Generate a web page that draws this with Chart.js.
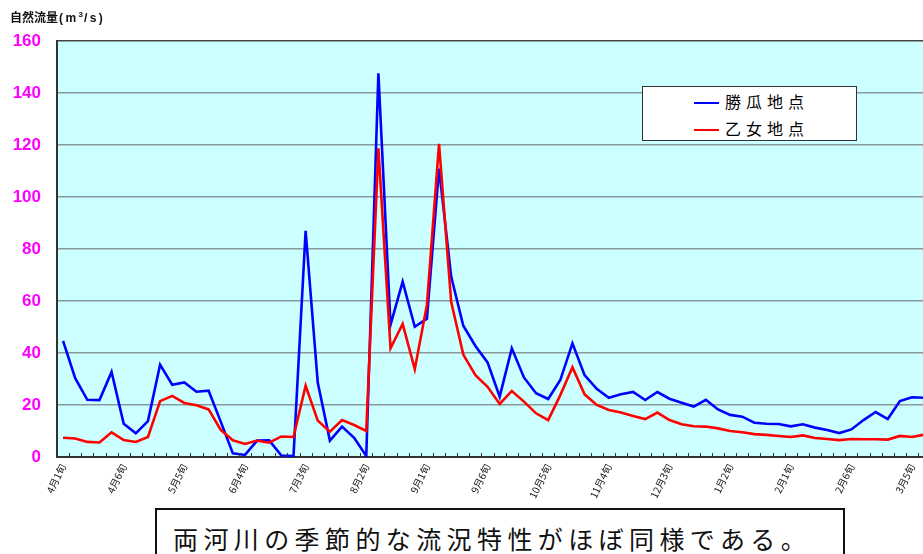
<!DOCTYPE html>
<html>
<head>
<meta charset="utf-8">
<script src="https://cdn.jsdelivr.net/npm/chart.js@4.4.1/dist/chart.umd.min.js"></script>
<style>
  html, body { margin: 0; padding: 0; background: #fff; overflow: hidden; width: 923px; height: 554px; }
  #wrap { position: absolute; left: 0; top: 0; width: 940px; height: 502px; }
  #title { position: absolute; left: 10px; top: 8px; font: bold 12px "Noto Sans CJK JP", sans-serif; color: #111; white-space: nowrap; }
  #title .u { letter-spacing: 2.4px; font-family: "Liberation Sans", sans-serif; font-weight: bold; margin-left: 1px; }
  #title sup { font-size: 8px; vertical-align: 5px; letter-spacing: 1px; }
  #legend { position: absolute; left: 642px; top: 86px; width: 213px; height: 53px; background: #fff; border: 1px solid #333; }
  .item { position: absolute; left: 51px; height: 20px; font: 16px "Noto Sans CJK JP", sans-serif; letter-spacing: 5px; color: #000; line-height: 20px; }
  .item i { display: inline-block; width: 25px; height: 2px; vertical-align: middle; margin-right: 6px; position: relative; top: -1px; }
  #note { position: absolute; left: 155px; top: 508px; width: 686px; height: 60px; border: 2px solid #111; background: #fff; }
  #note span { position: absolute; left: 16px; top: 10px; font: 25px "Noto Sans CJK JP", sans-serif; letter-spacing: 5.4px; color: #111; white-space: nowrap; }
</style>
</head>
<body>
<div id="wrap"><canvas id="c" width="940" height="502"></canvas></div>
<div id="title">自然流量<span class="u">(m<sup>3</sup>/s)</span></div>
<div id="legend">
  <div class="item" style="top:4px"><i style="background:#0000ff"></i>勝瓜地点</div>
  <div class="item" style="top:31px"><i style="background:#ff0000"></i>乙女地点</div>
</div>
<div id="note"><span>両河川の季節的な流況特性がほぼ同様である。</span></div>
<script>
// 半旬 (5-day) periods, April -> March
const months = [4, 5, 6, 7, 8, 9, 10, 11, 12, 1, 2, 3];
const categories = [];
for (const m of months) for (let k = 1; k <= 6; k++) categories.push(m + "月" + k + "旬");

// only every 5th period is labelled on the axis
const LABEL_EVERY = 5;

const katsuri = [44.7, 30.3, 22.0, 21.9, 32.7, 12.8, 9.1, 13.8, 35.5, 27.8,
  28.7, 25.1, 25.5, 13.6, 1.4, 0.8, 6.3, 6.4, 0.6, 0.4,
  87.0, 28.6, 6.3, 11.7, 7.4, 0.4, 147.6, 50.8, 67.4, 50.1,
  53.2, 110.9, 69.4, 50.5, 42.7, 36.4, 23.2, 41.8, 30.6, 24.5,
  22.3, 29.6, 43.7, 31.5, 26.2, 22.8, 24.1, 25.0, 21.9, 25.0,
  22.4, 20.9, 19.4, 22.0, 18.3, 16.2, 15.5, 13.2, 12.8, 12.7,
  11.8, 12.6, 11.3, 10.4, 9.2, 10.6, 14.2, 17.3, 14.6, 21.5,
  23.0, 22.8];

const otome = [7.4, 7.1, 5.8, 5.6, 9.5, 6.5, 5.8, 7.7, 21.5, 23.5,
  20.8, 19.9, 18.3, 10.4, 6.4, 5.0, 6.3, 5.5, 7.9, 7.7,
  27.4, 14.0, 9.7, 14.2, 12.3, 10.0, 118.7, 41.8, 51.2, 33.8,
  58.5, 120.4, 59.7, 39.4, 31.5, 27.0, 20.4, 25.4, 21.3, 16.8,
  14.2, 23.8, 34.5, 24.1, 20.0, 18.1, 17.1, 15.8, 14.6, 17.1,
  14.2, 12.6, 11.8, 11.7, 11.0, 10.0, 9.5, 8.8, 8.5, 8.1,
  7.7, 8.3, 7.3, 6.9, 6.5, 6.9, 6.8, 6.8, 6.7, 8.1,
  7.7, 8.6];

const Y_MIN = 0, Y_MAX = 160, Y_STEP = 20;

// cyan plot background
const plotBg = {
  id: "plotBg",
  beforeDraw(chart) {
    const a = chart.chartArea, ctx = chart.ctx;
    ctx.save();
    ctx.fillStyle = "#ccffff";
    ctx.fillRect(a.left, a.top, a.right - a.left, a.bottom - a.top);
    ctx.restore();
  }
};

// Excel-style tick marks drawn inside the plot, at category boundaries
const insideTicks = {
  id: "insideTicks",
  afterDatasetsDraw(chart) {
    const x = chart.scales.x, a = chart.chartArea, ctx = chart.ctx;
    const step = x.getPixelForValue(1) - x.getPixelForValue(0);
    ctx.save();
    ctx.strokeStyle = "#333";
    ctx.lineWidth = 1;
    ctx.beginPath();
    for (let k = 0; k <= categories.length; k++) {
      const px = Math.round(x.getPixelForValue(0) - step / 2 + k * step) + 0.5;
      ctx.moveTo(px, a.bottom);
      ctx.lineTo(px, a.bottom - 4);
    }
    ctx.stroke();
    ctx.restore();
  }
};

new Chart(document.getElementById("c").getContext("2d"), {
  type: "line",
  data: {
    labels: categories,
    datasets: [
      { label: "勝瓜地点", data: katsuri, borderColor: "#0000ff", borderWidth: 2.6, order: 1 },
      { label: "乙女地点", data: otome, borderColor: "#ff0000", borderWidth: 2.6, order: 0 },
    ],
  },
  options: {
    responsive: false, animation: false,
    elements: { point: { radius: 0 }, line: { tension: 0 } },
    layout: { padding: { top: 41, right: 8, left: 0, bottom: 0 } },
    scales: {
      x: {
        type: "category", offset: true,
        grid: { display: false, drawTicks: false },
        border: { display: true, color: "#333", width: 2 },
        afterFit(s) { s.height = 45; },
        ticks: {
          autoSkip: false, maxRotation: 64, minRotation: 64, padding: 5,
          color: "#111", font: { family: "Noto Sans CJK JP", size: 10 },
          callback: (v, i) => (i % LABEL_EVERY === 0 ? categories[i] : ""),
        },
      },
      y: {
        min: Y_MIN, max: Y_MAX,
        afterFit(s) { s.width = 57; },
        grid: {
          drawTicks: false, lineWidth: 1.5,
          color: (c) => (c.tick && c.tick.value === Y_MAX ? "#444" : "#8a9a9a"),
        },
        border: { display: true, color: "#333", width: 2 },
        ticks: {
          stepSize: Y_STEP, padding: 16, color: "#ff00ff",
          font: { family: "Liberation Sans", size: 17, weight: "bold" },
        },
      },
    },
    plugins: { legend: { display: false }, tooltip: { enabled: false } },
  },
  plugins: [plotBg, insideTicks],
});
</script>
</body>
</html>
